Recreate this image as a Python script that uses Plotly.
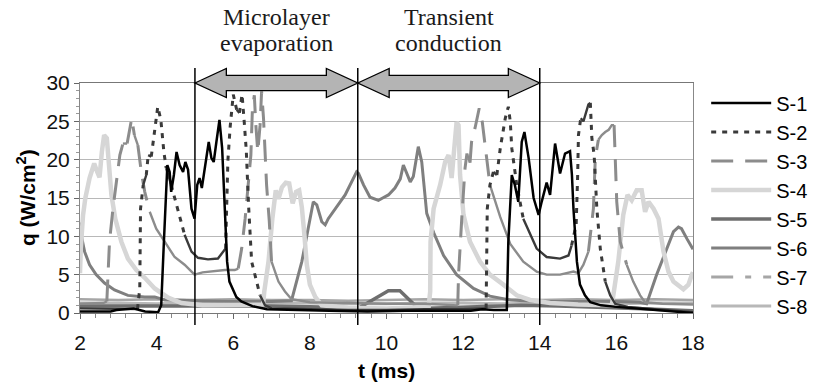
import plotly.graph_objects as go

# ---------------- data ----------------
s1_t = [2.0, 2.8, 2.95, 3.2, 3.4, 3.55, 3.7, 4.04, 4.12, 4.19, 4.23, 4.28, 4.34, 4.38, 4.45, 4.52, 4.60, 4.69,
        4.75, 4.82, 4.91, 4.99, 5.06, 5.12, 5.18, 5.30, 5.36, 5.43, 5.49, 5.56, 5.64, 5.71, 5.78, 5.84, 5.90,
        5.99, 6.08, 6.21, 6.5, 6.88, 7.5, 8.5, 9.5, 10.5, 11.5, 12.2, 12.5, 12.8, 13.14, 13.18, 13.27, 13.35,
        13.44, 13.53, 13.60, 13.71, 13.84, 13.97, 14.05, 14.18, 14.27, 14.40, 14.53, 14.66, 14.79, 14.84,
        14.88, 14.97, 15.05, 15.18, 15.32, 15.6, 16.0, 16.5, 17.0, 17.5, 18.0]
s1_q = [0.2, 0.2, 0.4, 0.5, 0.6, 0.4, 0.2, 0.1, 1.0, 9.3, 15.0, 19.3, 18.4, 15.8, 18.0, 21.0, 19.3, 18.4,
        19.7, 18.7, 13.6, 12.3, 16.7, 17.6, 16.3, 20.2, 22.3, 20.2, 19.7, 22.3, 25.2, 21.5, 13.6, 6.7, 4.1,
        3.2, 2.1, 1.5, 0.9, 0.5, 0.4, 0.3, 0.2, 0.3, 0.3, 0.3, 0.5, 0.4, 0.4, 9.3, 18.0, 16.7,
        14.5, 22.3, 23.6, 20.2, 15.0, 12.8, 14.5, 17.0, 15.4, 22.1, 18.2, 20.8, 21.1, 18.0,
        13.6, 6.7, 3.7, 2.3, 1.4, 1.0, 0.8, 0.6, 0.4, 0.2, 0.0]

s2_t = [2.0, 3.0, 3.5, 3.56, 3.58, 3.65, 3.73, 3.78, 3.86, 3.95, 4.03, 4.11, 4.19, 4.25, 4.38, 4.56, 4.73,
        4.91, 5.08, 5.34, 5.6, 5.73, 5.80, 5.86, 5.92, 6.0, 6.09, 6.16, 6.23, 6.29, 6.34, 6.40, 6.48, 6.61,
        6.70, 6.83, 7.0, 8.0, 9.0, 10.0, 11.0, 12.0, 12.6, 12.61, 12.63, 12.70, 12.79, 12.88, 12.97, 13.10,
        13.18, 13.23, 13.27, 13.40, 13.57, 13.75, 13.92, 14.18, 14.53, 14.75, 14.83, 14.95, 14.99, 15.01,
        15.07, 15.14, 15.27, 15.32, 15.36, 15.42, 15.49, 15.58, 15.71, 15.84, 15.97, 16.3, 17.0, 17.5, 18.0]
s2_q = [0.6, 0.5, 0.5, 3.2, 13.6, 16.7, 18.0, 20.6, 20.4, 24.1, 26.9, 25.2, 21.0, 18.9, 16.7, 13.2, 10.2,
        8.0, 7.2, 7.0, 7.1, 8.0, 8.4, 19.9, 24.3, 28.5, 26.5, 26.1, 28.5, 24.7, 21.2, 14.0, 6.7, 4.1,
        2.3, 1.0, 0.6, 0.5, 0.4, 0.4, 0.5, 0.5, 0.6, 4.1, 13.6, 16.7, 18.4, 18.0, 21.5, 25.4,
        26.9, 25.0, 21.5, 16.7, 12.3, 10.2, 8.4, 7.3, 7.1, 7.5, 8.8, 11.5, 18.0, 23.2,
        25.4, 25.0, 27.2, 27.4, 22.8, 20.6, 13.6, 8.4, 4.1, 2.3, 1.2, 0.8, 0.5, 0.3, 0.1]

s3_t = [2.0, 2.6, 2.70, 2.73, 2.77, 2.86, 2.95, 3.04, 3.12, 3.23, 3.29, 3.35, 3.42, 3.51, 3.60, 3.69, 3.82,
        3.99, 4.21, 4.47, 4.73, 4.99, 5.2, 5.43, 5.78, 6.04, 6.13, 6.22, 6.31, 6.40, 6.46, 6.50, 6.55, 6.59,
        6.64, 6.70, 6.74, 6.79, 6.83, 6.87, 6.94, 7.0, 7.18, 7.35, 7.52, 8.0, 9.0, 10.0, 11.0, 11.86, 11.88,
        11.97, 12.05, 12.10, 12.18, 12.22, 12.31, 12.42, 12.50, 12.61, 12.70, 12.97, 13.23, 13.57, 13.92,
        14.18, 14.53, 14.88, 15.01, 15.14, 15.27, 15.40, 15.45, 15.53, 15.62, 15.71, 15.80, 15.88, 15.94,
        15.96, 16.01, 16.10, 16.27, 16.44, 16.62, 16.75, 17.2, 18.0]
s3_q = [1.2, 1.3, 1.5, 5.8, 9.3, 13.6, 17.1, 20.6, 22.1, 22.1, 23.7, 25.4, 23.2, 21.9, 18.4, 15.8, 13.2,
        11.0, 9.3, 7.3, 6.3, 5.0, 5.3, 5.4, 5.6, 5.6, 5.8, 8.4, 12.3, 17.9, 20.6, 26.6, 28.4, 24.5,
        21.0, 24.5, 28.9, 25.4, 20.6, 16.7, 12.0, 6.7, 4.1, 2.8, 1.8, 1.4, 1.3, 1.2, 1.2, 1.0, 5.0,
        12.8, 18.9, 20.8, 19.6, 22.3, 24.1, 26.7, 24.9, 20.2, 16.7, 12.5, 9.0, 6.7, 5.4,
        5.0, 5.0, 5.4, 5.2, 6.3, 8.0, 13.6, 20.2, 22.6, 23.2, 23.6, 23.9, 24.5, 24.5,
        21.0, 14.5, 9.3, 6.3, 4.1, 2.3, 1.4, 1.2, 1.1]

s4_t = [2.0, 2.02, 2.08, 2.14, 2.25, 2.37, 2.45, 2.51, 2.57, 2.63, 2.70, 2.75, 2.82, 2.92, 3.08, 3.25, 3.47,
        3.69, 3.95, 4.30, 4.65, 5.2, 6.0, 6.78, 6.81, 6.92, 7.02, 7.11, 7.18, 7.27, 7.37, 7.46, 7.55, 7.64,
        7.72, 7.79, 7.85, 7.92, 8.0, 8.14, 8.31, 9.0, 10.0, 11.1, 11.14, 11.15, 11.23, 11.40, 11.53, 11.62,
        11.70, 11.79, 11.83, 11.88, 11.92, 12.01, 12.18, 12.44, 12.70, 13.05, 13.40, 13.75, 14.27, 15.0,
        15.88, 15.92, 16.05, 16.18, 16.29, 16.40, 16.53, 16.66, 16.75, 16.84, 16.97, 17.10, 17.23, 17.36,
        17.49, 17.75, 17.88, 17.97, 18.0]
s4_q = [5.2, 8.4, 12.8, 15.0, 17.6, 19.5, 18.4, 17.7, 21.0, 23.2, 22.8, 18.9, 15.4, 12.3, 9.3, 7.1, 5.6,
        4.6, 3.2, 2.0, 1.3, 1.0, 1.0, 1.1, 2.8, 6.7, 12.3, 16.0, 14.9, 16.4, 17.0, 16.9, 14.3, 15.8,
        16.0, 13.8, 10.6, 6.3, 3.7, 2.1, 1.0, 0.7, 0.6, 0.8, 2.8, 9.3, 13.6, 16.7, 19.7, 20.6,
        17.6, 22.3, 24.9, 24.5, 18.0, 12.8, 9.3, 6.7, 5.0, 3.7, 2.3, 1.7, 1.3, 1.1,
        1.0, 2.3, 6.7, 12.8, 15.4, 14.7, 16.0, 16.0, 13.2, 14.5, 13.6, 12.3, 8.0, 5.4,
        4.1, 3.1, 3.7, 5.0, 5.3]

s5_t = [2.0, 3.0, 4.0, 5.0, 6.0, 7.0, 8.0, 9.0, 9.22, 10.05, 10.35, 10.83, 11.5, 12.5, 13.5, 14.5, 15.5,
        16.5, 17.5, 18.0]
s5_q = [0.9, 0.9, 1.0, 1.0, 0.9, 0.9, 0.8, 0.7, 0.5, 2.9, 2.9, 0.6, 0.7, 0.9, 1.0, 0.9, 0.8,
        0.6, 0.4, 0.3]

s6_t = [2.0, 2.03, 2.12, 2.25, 2.42, 2.64, 2.90, 3.25, 3.69, 3.95, 4.21, 5.0, 6.0, 7.0, 7.52, 7.79, 7.96,
        8.09, 8.18, 8.31, 8.40, 8.48, 8.92, 9.22, 9.27, 9.40, 9.57, 9.79, 9.90, 10.05, 10.22, 10.36, 10.44,
        10.52, 10.62, 10.70, 10.83, 10.92, 11.05, 11.23, 11.49, 11.83, 12.27, 12.70, 13.23, 14.0, 15.0,
        16.0, 16.6, 16.79, 17.05, 17.31, 17.49, 17.62, 17.70, 17.84, 17.97, 18.0]
s6_q = [11.8, 10.2, 8.0, 6.3, 5.0, 3.9, 3.0, 2.3, 2.1, 2.1, 1.7, 1.6, 1.5, 1.5, 1.6, 6.7, 11.0,
        14.5, 14.1, 11.9, 11.5, 12.3, 15.4, 18.4, 18.2, 16.7, 15.1, 14.7, 15.0, 15.4, 16.3, 17.5, 19.3,
        18.3, 17.1, 17.8, 21.7, 19.7, 13.0, 10.5, 7.5, 5.0, 3.2, 2.2, 1.7, 1.5, 1.5,
        1.5, 1.4, 1.2, 5.0, 8.4, 10.6, 11.2, 11.0, 9.7, 8.4, 8.3]

s7_t = [2.0, 3.0, 4.0, 5.0, 6.0, 7.0, 8.0, 9.0, 10.0, 11.0, 12.0, 13.0, 14.0, 15.0, 16.0, 17.0, 18.0]
s7_q = [1.8, 1.7, 1.8, 1.7, 1.8, 1.7, 1.7, 1.6, 1.7, 1.8, 1.7, 1.8, 1.7, 1.8, 1.7, 1.8, 1.7]

s8_t = [2.0, 3.0, 4.0, 5.0, 6.0, 7.0, 8.0, 9.0, 10.0, 11.0, 12.0, 13.0, 14.0, 15.0, 16.0, 17.0, 18.0]
s8_q = [1.3, 1.3, 1.2, 1.3, 1.2, 1.3, 1.3, 1.2, 1.2, 1.3, 1.3, 1.2, 1.3, 1.2, 1.2, 1.3, 1.3]

series_names = ["S-1", "S-2", "S-3", "S-4", "S-5", "S-6", "S-7", "S-8"]
x_ticks = [2, 4, 6, 8, 10, 12, 14, 16, 18]
y_ticks = [0, 5, 10, 15, 20, 25, 30]
phase_bounds = [5.0, 9.25, 14.0]
phase_labels = [("Microlayer", "evaporation"), ("Transient", "conduction")]

series_t = [s1_t, s2_t, s3_t, s4_t, s5_t, s6_t, s7_t, s8_t]
series_q = [s1_q, s2_q, s3_q, s4_q, s5_q, s6_q, s7_q, s8_q]

styles = [
    dict(color="#000000", width=2.5, dash="solid"),
    dict(color="#3a3a3a", width=3, dash="5px,6px"),
    dict(color="#8c8c8c", width=3, dash="22px,12px"),
    dict(color="#d6d6d6", width=4.5, dash="solid"),
    dict(color="#6e6e6e", width=3.5, dash="solid"),
    dict(color="#7f7f7f", width=3, dash="solid"),
    dict(color="#a6a6a6", width=3, dash="22px,12px,6px,12px"),
    dict(color="#b8b8b8", width=3, dash="solid"),
]

FONT = "Liberation Sans, Arial, sans-serif"
PX_PER_T = 613 / 16.0   # horizontal pixels per ms (used only to judge steepness)
PX_PER_Q = 230 / 30.0   # vertical pixels per W/cm2


def split_by_steepness(t, q, thr=3.5):
    """Old spreadsheet charts restart the dash pattern at every data point, so dashed
    series only look dashed on steep stretches. Split segments into steep / flat runs."""
    steep_x, steep_y, flat_x, flat_y = [], [], [], []
    prev = None
    for i in range(len(t) - 1):
        dx = (t[i + 1] - t[i]) * PX_PER_T
        dy = abs(q[i + 1] - q[i]) * PX_PER_Q
        is_steep = dy > thr * dx
        xs, ys = (steep_x, steep_y) if is_steep else (flat_x, flat_y)
        if prev is not is_steep or not xs:
            if xs:
                xs.append(None)
                ys.append(None)
            xs.extend([t[i], t[i + 1]])
            ys.extend([q[i], q[i + 1]])
        else:
            xs.append(t[i + 1])
            ys.append(q[i + 1])
        prev = is_steep
    return steep_x, steep_y, flat_x, flat_y


fig = go.Figure()
for i in reversed(range(8)):
    st = styles[i]
    if st["dash"] == "solid":
        fig.add_trace(go.Scatter(x=series_t[i], y=series_q[i], mode="lines", name=series_names[i],
                                 legendgroup=series_names[i], line=dict(**st), hoverinfo="skip"))
    else:
        sx, sy, fx, fy = split_by_steepness(series_t[i], series_q[i])
        if not sx:  # keep a legend entry even when no stretch is steep
            sx, sy = [None], [None]
        fig.add_trace(go.Scatter(x=fx, y=fy, mode="lines", name=series_names[i], showlegend=False,
                                 legendgroup=series_names[i],
                                 line=dict(color=st["color"], width=st["width"] * 0.8, dash="solid"),
                                 hoverinfo="skip"))
        fig.add_trace(go.Scatter(x=sx, y=sy, mode="lines", name=series_names[i],
                                 legendgroup=series_names[i], line=dict(**st), hoverinfo="skip"))

# vertical phase boundaries
for xb in phase_bounds:
    fig.add_shape(type="line", xref="x", yref="paper", x0=xb, x1=xb, y0=-0.052, y1=1.065,
                  line=dict(color="#000000", width=1.5))


# double arrows
def double_arrow(xa, xb, h=0.82, yc=1.0, hh=0.063, sh=0.033):
    return (f"M {xa},{yc} L {xa+h},{yc+hh} L {xa+h},{yc+sh} L {xb-h},{yc+sh} L {xb-h},{yc+hh} "
            f"L {xb},{yc} L {xb-h},{yc-hh} L {xb-h},{yc-sh} L {xa+h},{yc-sh} L {xa+h},{yc-hh} Z")


spans = [(phase_bounds[0], phase_bounds[1]), (phase_bounds[1], phase_bounds[2])]
for a, b in spans:
    fig.add_shape(type="path", xref="x", yref="paper", path=double_arrow(a, b),
                  fillcolor="#b4b4b4", line=dict(color="#000000", width=1.3))

# phase text labels
for (l1, l2), (a, b) in zip(phase_labels, spans):
    xc = (a + b) / 2
    for txt, yy in [(l1, 1.287), (l2, 1.174)]:
        fig.add_annotation(x=xc, y=yy, xref="x", yref="paper", text=txt, showarrow=False,
                           font=dict(family="Liberation Serif, Times New Roman, serif", size=24, color="#1a1a1a"),
                           xanchor="center", yanchor="middle")

# axis titles
fig.add_annotation(x=0.5, y=-0.252, xref="paper", yref="paper", text="<b>t (ms)</b>", showarrow=False,
                   font=dict(family=FONT, size=21, color="#000000"), xanchor="center", yanchor="middle")
fig.add_annotation(x=-0.088, y=0.5, xref="paper", yref="paper", text="<b>q (W/cm<sup>2</sup>)</b>",
                   showarrow=False, textangle=-90,
                   font=dict(family=FONT, size=21, color="#000000"), xanchor="center", yanchor="middle")

fig.update_layout(
    width=815, height=385,
    margin=dict(l=80, r=122, t=83, b=72, autoexpand=False),
    paper_bgcolor="white", plot_bgcolor="white",
    font=dict(family=FONT, size=21, color="#111111"),
    showlegend=True,
    legend=dict(x=1.0215, y=0.998, xanchor="left", yanchor="top", traceorder="reversed",
                font=dict(family=FONT, size=20, color="#000000"), itemwidth=60,
                bgcolor="rgba(0,0,0,0)", borderwidth=0, tracegroupgap=0, maxheight=330),
    xaxis=dict(range=[2, 18], tickvals=x_ticks, ticks="outside", ticklen=5, tickcolor="#666666",
               showgrid=False, showline=True, linecolor="#777777", linewidth=1, mirror=True,
               zeroline=False, tickfont=dict(family=FONT, size=21, color="#111111"),
               ticklabelstandoff=6,
               minor=dict(dtick=0.4, tick0=2, ticks="outside", ticklen=4, tickcolor="#888888")),
    yaxis=dict(range=[0, 30], tickvals=y_ticks, ticks="outside", ticklen=5, tickcolor="#666666",
               showgrid=True, gridcolor="#b8b8b8", gridwidth=1, showline=True, linecolor="#888888",
               linewidth=1, mirror=True, zeroline=False,
               tickfont=dict(family=FONT, size=21, color="#111111"),
               minor=dict(dtick=1, ticks="outside", ticklen=3, tickcolor="#999999", showgrid=False)),
)

fig.write_html("out.html")
